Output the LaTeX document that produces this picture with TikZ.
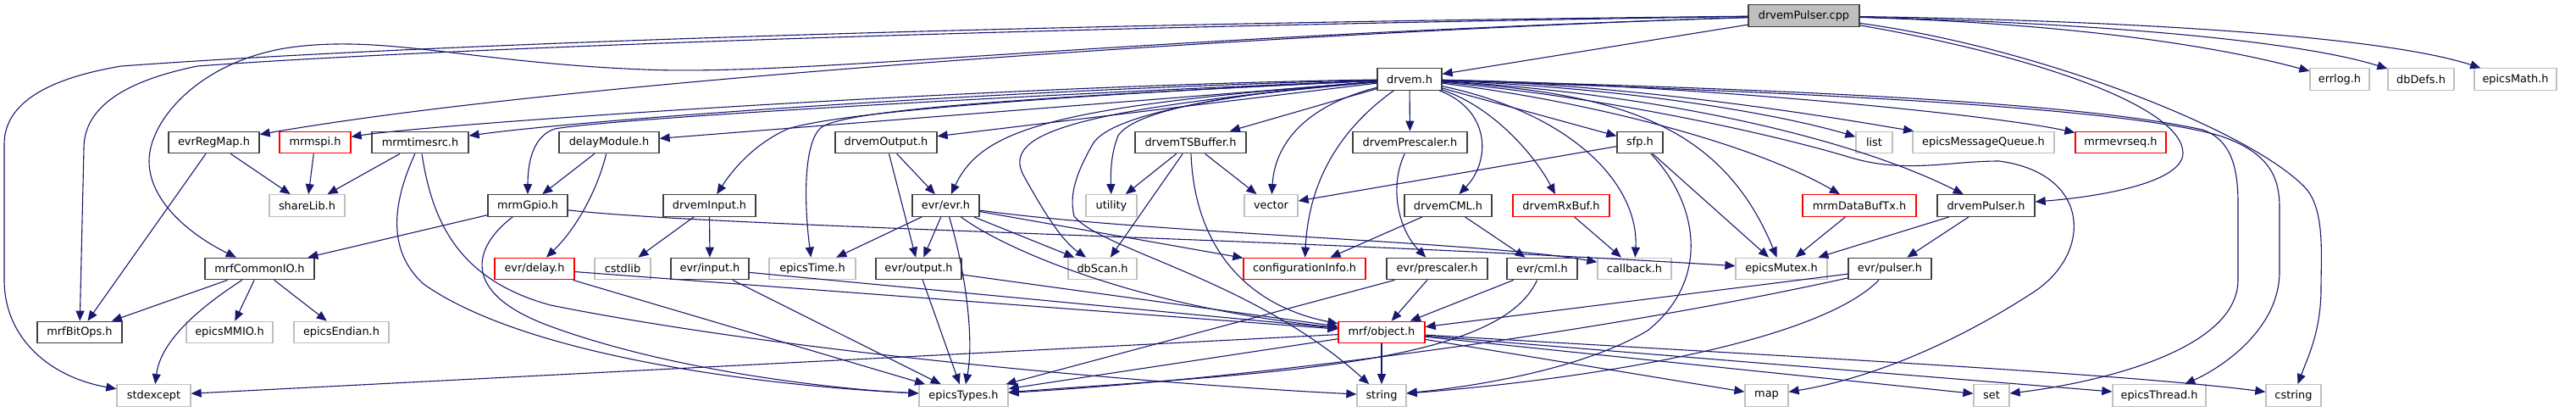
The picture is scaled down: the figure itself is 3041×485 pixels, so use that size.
\documentclass[tikz,border=0pt]{standalone}
\usepackage{fontspec}
\setmainfont{DejaVu Sans}
\usetikzlibrary{arrows.meta}
\definecolor{edgec}{HTML}{191970}
\definecolor{gbord}{HTML}{BFBFBF}
\definecolor{kbord}{HTML}{404040}
\definecolor{rootfill}{HTML}{BFBFBF}
\begin{document}
\begin{tikzpicture}[x=1pt,y=-1pt,
  bx/.style={rectangle, inner sep=0pt, minimum height=25.5pt, line width=1.3pt, fill=white,
    font=\fontsize{12.9}{15}\selectfont},
  kb/.style={bx, draw=kbord},
  gb/.style={bx, draw=gbord},
  rb/.style={bx, draw=red},
  rootb/.style={bx, draw=kbord, fill=rootfill},
  e/.style={draw=edgec, line width=1.1pt, -{Triangle[length=12pt,width=10pt]}}]
\useasboundingbox[fill=white] (0,0) rectangle (3041,485);

% row 0
\node[rootb, minimum width=131pt] (cpp) at (2129.5,18.5) {drvemPulser.cpp};
% row 1
\node[kb, minimum width=76pt] (drvem) at (1664,93.5) {drvem.h};
\node[gb, minimum width=70pt] (errlog) at (2762,93.5) {errlog.h};
\node[gb, minimum width=78pt] (dbdefs) at (2858,93.5) {dbDefs.h};
\node[gb, minimum width=97pt] (emath) at (2969.5,93.5) {epicsMath.h};
% row 2
\node[kb, minimum width=107pt] (regmap) at (252.5,168) {evrRegMap.h};
\node[rb, minimum width=84pt] (mrmspi) at (372,168) {mrmspi.h};
\node[kb, minimum width=114pt] (timesrc) at (496,168) {mrmtimesrc.h};
\node[kb, minimum width=118pt] (delaymod) at (719,168) {delayModule.h};
\node[kb, minimum width=120pt] (dout) at (1046,168) {drvemOutput.h};
\node[kb, minimum width=131pt] (tsbuf) at (1405.5,168) {drvemTSBuffer.h};
\node[kb, minimum width=135pt] (dpresc) at (1664.5,168) {drvemPrescaler.h};
\node[kb, minimum width=54pt] (sfp) at (1936,168) {sfp.h};
\node[gb, minimum width=43pt] (list) at (2212.5,168) {list};
\node[gb, minimum width=167pt] (emq) at (2341.5,168) {epicsMessageQueue.h};
\node[rb, minimum width=107pt] (evrseq) at (2503.5,168) {mrmevrseq.h};
% row 3
\node[gb, minimum width=89pt] (sharelib) at (362.5,242.5) {shareLib.h};
\node[kb, minimum width=94pt] (gpio) at (623,242.5) {mrmGpio.h};
\node[kb, minimum width=109pt] (din) at (837.5,242.5) {drvemInput.h};
\node[kb, minimum width=79pt] (evr) at (1116.5,242.5) {evr/evr.h};
\node[gb, minimum width=60pt] (utility) at (1312,242.5) {utility};
\node[gb, minimum width=63pt] (vector) at (1500.5,242.5) {vector};
\node[kb, minimum width=103pt] (dcml) at (1709.5,242.5) {drvemCML.h};
\node[rb, minimum width=114pt] (rxbuf) at (1843,242.5) {drvemRxBuf.h};
\node[rb, minimum width=134pt] (dbtx) at (2195,242.5) {mrmDataBufTx.h};
\node[kb, minimum width=115pt] (dpulser) at (2344.5,242.5) {drvemPulser.h};
% row 4
\node[kb, minimum width=129pt] (commonio) at (306.5,317) {mrfCommonIO.h};
\node[rb, minimum width=94pt] (edelay) at (631,317) {evr/delay.h};
\node[gb, minimum width=66pt] (cstdlib) at (735,317) {cstdlib};
\node[kb, minimum width=92pt] (einput) at (838,317) {evr/input.h};
\node[gb, minimum width=102pt] (etime) at (959,317) {epicsTime.h};
\node[kb, minimum width=101pt] (eoutput) at (1084.5,317) {evr/output.h};
\node[gb, minimum width=81pt] (dbscan) at (1301.5,317) {dbScan.h};
\node[rb, minimum width=144pt] (cfginfo) at (1540,317) {configurationInfo.h};
\node[kb, minimum width=119pt] (epresc) at (1696.5,317) {evr/prescaler.h};
\node[kb, minimum width=83pt] (ecml) at (1820.5,317) {evr/cml.h};
\node[gb, minimum width=87pt] (callback) at (1929.5,317) {callback.h};
\node[gb, minimum width=108pt] (emutex) at (2103,317) {epicsMutex.h};
\node[kb, minimum width=98pt] (epulser) at (2231,317) {evr/pulser.h};
% row 5
\node[kb, minimum width=100pt] (bitops) at (94,392) {mrfBitOps.h};
\node[gb, minimum width=102pt] (mmio) at (271,392) {epicsMMIO.h};
\node[gb, minimum width=112pt] (endian) at (403,392) {epicsEndian.h};
\node[rb, minimum width=102pt] (object) at (1631,392) {mrf/object.h};
% row 6
\node[gb, minimum width=87pt] (stdexcept) at (181.5,466.5) {stdexcept};
\node[gb, minimum width=105pt] (etypes) at (1137.5,466.5) {epicsTypes.h};
\node[gb, minimum width=58pt] (string) at (1631,466.5) {string};
\node[gb, minimum width=51pt] (map) at (2085.5,466.5) {map};
\node[gb, minimum width=42pt] (set) at (2351,466.5) {set};
\node[gb, minimum width=110pt] (ethread) at (2549,466.5) {epicsThread.h};
\node[gb, minimum width=65pt] (cstring) at (2707.5,466.5) {cstring};

% ---- edges from drvemPulser.cpp
\draw[e] (cpp) -- (drvem);
\draw[e] (cpp) .. controls (2450,28) and (2620,55) .. (errlog);
\draw[e] (cpp) .. controls (2500,28) and (2720,50) .. (dbdefs);
\draw[e] (cpp) .. controls (2550,25) and (2820,45) .. (emath);
\draw[e] (cpp) .. controls (2400,55) and (2650,150) .. (2720,220) .. controls (2745,245) and (2740,300) .. (2740,340) .. controls (2740,390) and (2725,420) .. (cstring);
\draw[e] (cpp) .. controls (2400,65) and (2575,125) .. (2577,180) .. controls (2578,215) and (2480,232) .. (dpulser);
\draw[e] (cpp) .. controls (1600,35) and (700,90) .. (regmap);
\draw[e] (cpp) .. controls (1300,45) and (950,90) .. (760,82) .. controls (560,74) and (460,42) .. (350,55) .. controls (240,68) and (176,140) .. (176,190) .. controls (176,240) and (230,280) .. (commonio);
\draw[e] (cpp) .. controls (1200,28) and (500,52) .. (143,78) .. controls (60,92) and (5,120) .. (5,170) -- (5,330) .. controls (5,400) and (60,445) .. (stdexcept);
\draw[e] (cpp) .. controls (1200,32) and (500,58) .. (233,78) .. controls (150,95) and (99,125) .. (99,175) -- (bitops);

% ---- edges from drvem.h
\draw[e] (drvem) .. controls (1200,100) and (520,145) .. (mrmspi);
\draw[e] (drvem) .. controls (1200,105) and (700,140) .. (timesrc);
\draw[e] (drvem) -- (delaymod);
\draw[e] (drvem) .. controls (1200,112) and (720,140) .. (655,152) .. controls (630,160) and (623,190) .. (gpio);
\draw[e] (drvem) .. controls (1300,110) and (1000,130) .. (930,152) .. controls (890,170) and (865,200) .. (din);
\draw[e] (drvem) .. controls (1200,115) and (1000,130) .. (970,150) .. controls (950,165) and (948,230) .. (etime);
\draw[e] (drvem) -- (dout);
\draw[e] (drvem) .. controls (1250,125) and (1160,150) .. (evr);
\draw[e] (drvem) .. controls (1250,130) and (1180,160) .. (1210,210) .. controls (1235,255) and (1255,285) .. (dbscan);
\draw[e] (drvem) .. controls (1450,110) and (1340,130) .. (1320,160) .. controls (1312,180) and (1311,200) .. (utility);
\draw[e] (drvem) .. controls (1450,110) and (1310,135) .. (1290,170) .. controls (1270,205) and (1262,230) .. (1268,255) .. controls (1300,295) and (1480,330) .. (string);
\draw[e] (drvem) -- (tsbuf);
\draw[e] (drvem) .. controls (1540,125) and (1505,170) .. (vector);
\draw[e] (drvem) .. controls (1585,150) and (1545,210) .. (cfginfo);
\draw[e] (drvem) -- (dpresc);
\draw[e] (drvem) .. controls (1760,130) and (1760,190) .. (dcml);
\draw[e] (drvem) .. controls (1760,125) and (1810,180) .. (rxbuf);
\draw[e] (drvem) .. controls (1860,135) and (1935,220) .. (callback);
\draw[e] (drvem) -- (sfp);
\draw[e] (drvem) .. controls (1900,110) and (2030,140) .. (emutex);
\draw[e] (drvem) .. controls (1880,120) and (2070,170) .. (dbtx);
\draw[e] (drvem) .. controls (1950,110) and (2180,160) .. (dpulser);
\draw[e] (drvem) .. controls (1950,105) and (2120,140) .. (list);
\draw[e] (drvem) .. controls (1950,100) and (2200,145) .. (emq);
\draw[e] (drvem) .. controls (2000,100) and (2350,135) .. (evrseq);
\draw[e] (drvem) .. controls (1900,115) and (2100,160) .. (2185,186) .. controls (2250,205) and (2300,190) .. (2360,190) .. controls (2470,205) and (2470,300) .. (2400,345) .. controls (2300,410) and (2200,448) .. (map);
\draw[e] (drvem) .. controls (2100,105) and (2450,120) .. (2600,153) .. controls (2635,165) and (2642,200) .. (2642,240) -- (2642,330) .. controls (2642,420) and (2450,455) .. (set);
\draw[e] (drvem) .. controls (2100,108) and (2500,125) .. (2620,160) .. controls (2680,180) and (2691,210) .. (2691,245) -- (2691,320) .. controls (2691,390) and (2620,435) .. (ethread);

% ---- left part
\draw[e] (regmap) -- (sharelib);
\draw[e] (regmap) -- (bitops);
\draw[e] (mrmspi) -- (sharelib);
\draw[e] (timesrc) -- (sharelib);
\draw[e] (timesrc) .. controls (470,225) and (450,290) .. (500,335) .. controls (620,420) and (900,455) .. (etypes);
\draw[e] (timesrc) .. controls (510,260) and (540,330) .. (650,360) .. controls (950,420) and (1400,455) .. (string);
\draw[e] (commonio) -- (bitops);
\draw[e] (commonio) -- (mmio);
\draw[e] (commonio) -- (endian);
\draw[e] (commonio) .. controls (240,360) and (190,400) .. (stdexcept);
\draw[e] (gpio) -- (commonio);
\draw[e] (gpio) .. controls (560,290) and (540,345) .. (650,385) .. controls (800,440) and (1000,460) .. (etypes);
\draw[e] (gpio) .. controls (850,268) and (1500,280) .. (emutex);
\draw[e] (delaymod) -- (gpio);
\draw[e] (delaymod) .. controls (705,225) and (680,270) .. (edelay);
\draw[e] (edelay) -- (object);
\draw[e] (edelay) -- (etypes);
\draw[e] (din) -- (cstdlib);
\draw[e] (din) -- (einput);
\draw[e] (einput) -- (object);
\draw[e] (einput) -- (etypes);

% ---- middle part
\draw[e] (dout) -- (evr);
\draw[e] (dout) -- (eoutput);
\draw[e] (evr) -- (etime);
\draw[e] (evr) -- (eoutput);
\draw[e] (evr) -- (dbscan);
\draw[e] (evr) -- (cfginfo);
\draw[e] (evr) .. controls (1140,320) and (1150,400) .. (etypes);
\draw[e] (evr) .. controls (1180,290) and (1330,360) .. (object);
\draw[e] (evr) .. controls (1350,275) and (1750,285) .. (callback);
\draw[e] (eoutput) -- (object);
\draw[e] (eoutput) -- (etypes);
\draw[e] (tsbuf) -- (utility);
\draw[e] (tsbuf) -- (dbscan);
\draw[e] (tsbuf) -- (vector);
\draw[e] (tsbuf) .. controls (1410,290) and (1470,360) .. (object);
\draw[e] (dpresc) .. controls (1640,220) and (1650,270) .. (epresc);
\draw[e] (epresc) -- (object);
\draw[e] (epresc) -- (etypes);
\draw[e] (dcml) -- (cfginfo);
\draw[e] (dcml) -- (ecml);
\draw[e] (ecml) -- (object);
\draw[e] (ecml) .. controls (1770,430) and (1500,440) .. (etypes);
\draw[e] (rxbuf) -- (callback);

% ---- right part
\draw[e] (sfp) -- (vector);
\draw[e] (sfp) -- (emutex);
\draw[e] (sfp) .. controls (2005,240) and (2020,330) .. (1945,390) .. controls (1860,440) and (1720,458) .. (string);
\draw[e] (dbtx) -- (emutex);
\draw[e] (dpulser) -- (emutex);
\draw[e] (dpulser) -- (epulser);
\draw[e] (epulser) -- (object);
\draw[e] (epulser) .. controls (1900,390) and (1500,445) .. (etypes);
\draw[e] (epulser) .. controls (2150,400) and (1900,445) .. (string);

% ---- from mrf/object.h
\draw[e] (object) -- (string);
\draw[e] (object) -- (etypes);
\draw[e] (object) -- (stdexcept);
\draw[e] (object) -- (map);
\draw[e] (object) -- (set);
\draw[e] (object) -- (ethread);
\draw[e] (object) .. controls (2100,420) and (2500,440) .. (cstring);
\end{tikzpicture}
\end{document}
